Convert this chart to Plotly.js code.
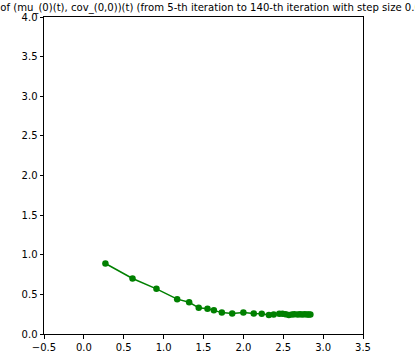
<!DOCTYPE html>
<html><head><meta charset="utf-8">
<script src="https://cdn.plot.ly/plotly-3.0.1.min.js"></script>
<style>html,body{margin:0;padding:0;background:#fff;}#chart{width:415px;height:352px;}</style>
</head><body><div id="chart"></div>
<script>
const muValues = [0.27, 0.61, 0.91, 1.17, 1.32, 1.44, 1.55, 1.63, 1.73, 1.86, 2.00, 2.13, 2.23, 2.32, 2.38, 2.45, 2.49, 2.53, 2.57, 2.61, 2.64, 2.68, 2.71, 2.74, 2.77, 2.80, 2.82, 2.84];
const covValues = [0.89, 0.70, 0.57, 0.44, 0.40, 0.33, 0.32, 0.30, 0.27, 0.26, 0.27, 0.26, 0.255, 0.24, 0.245, 0.255, 0.255, 0.25, 0.24, 0.245, 0.25, 0.245, 0.25, 0.245, 0.25, 0.245, 0.245, 0.245];
const xTicks = [-0.5, 0.0, 0.5, 1.0, 1.5, 2.0, 2.5, 3.0, 3.5];
const yTicks = [0.0, 0.5, 1.0, 1.5, 2.0, 2.5, 3.0, 3.5, 4.0];
const titleText = "Trajectory of (mu_(0)(t), cov_(0,0))(t) (from 5-th iteration to 140-th iteration with step size 0.01)";

const trace = {
  x: muValues, y: covValues, type: 'scatter', mode: 'lines+markers',
  line: {color: '#008000', width: 1.5},
  marker: {color: '#008000', size: 6.5},
  cliponaxis: false
};
const axisCommon = {
  showgrid: false, zeroline: false, showline: true, mirror: true,
  linecolor: '#000', linewidth: 1, ticks: 'outside', ticklen: 3.5, tickwidth: 1, tickcolor: '#000',
  tickfont: {family: 'DejaVu Sans', size: 10, color: '#000'}, tickformat: '.1f'
};
const layout = {
  width: 415, height: 352,
  margin: {l: 44, r: 52, t: 17, b: 18},
  paper_bgcolor: '#fff', plot_bgcolor: '#fff',
  showlegend: false,
  title: {text: titleText, font: {family: 'DejaVu Sans', size: 10.1, color: '#000'}, x: 0.456, xanchor: 'center', y: 0.99, yanchor: 'top', yref: 'container'},
  xaxis: Object.assign({}, axisCommon, {range: [-0.5, 3.5], tickvals: xTicks}),
  yaxis: Object.assign({}, axisCommon, {range: [0, 4], tickvals: yTicks})
};
Plotly.newPlot('chart', [trace], layout, {displayModeBar: false, staticPlot: true});
</script></body></html>
